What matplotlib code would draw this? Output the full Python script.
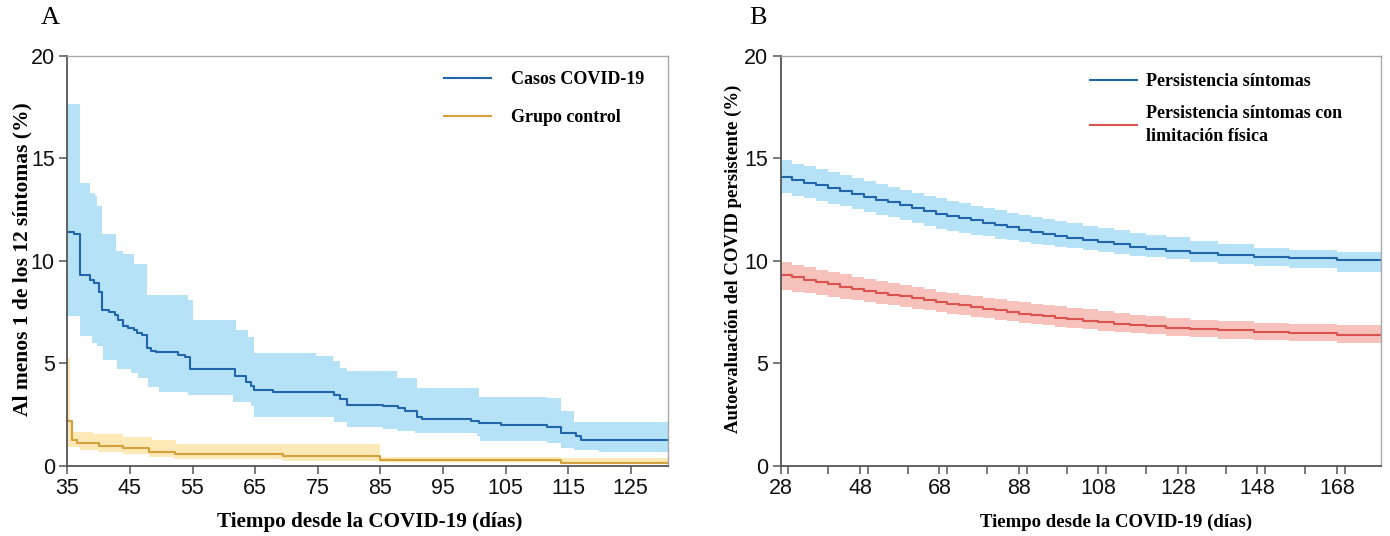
import matplotlib
matplotlib.use("Agg")
import matplotlib.pyplot as plt
from matplotlib.ticker import MultipleLocator

# ---------------- Panel A data (step functions, days / %) ----------------
case_days = [35, 36.0, 37.0, 38.6, 39.3, 40.1, 40.6, 41.7, 42.6, 43.1, 43.9, 44.7, 45.6,
             46.2, 47.0, 47.8, 48.3, 49.1, 52.7, 53.8, 54.6, 61.8, 63.6, 64.4, 64.9,
             67.9, 77.6, 78.6, 79.7, 85.5, 87.9, 89.0, 90.9, 91.7, 99.5, 100.7, 104.2,
             111.6, 113.9, 116.2, 117.0]
case_vals = [11.42, 11.32, 9.30, 9.06, 8.90, 8.46, 7.61, 7.50, 7.37, 7.09, 6.83, 6.72, 6.60,
             6.47, 6.39, 5.74, 5.62, 5.53, 5.41, 5.30, 4.71, 4.38, 4.11, 3.90, 3.70,
             3.60, 3.45, 3.25, 2.97, 2.89, 2.80, 2.69, 2.40, 2.28, 2.20, 2.10, 1.97,
             1.87, 1.58, 1.45, 1.27]

case_hi_days = [35, 37.0, 38.6, 39.5, 39.8, 40.6, 42.8, 43.9, 45.6, 47.8, 54.3, 55.1, 61.9,
                63.8, 64.9, 74.7, 77.4, 78.6, 79.7, 87.6, 90.9, 100.7, 111.6, 113.8, 116.0]
case_hi_vals = [17.66, 13.79, 13.31, 13.18, 12.69, 11.32, 10.48, 10.32, 9.84, 8.35, 8.10, 7.09, 6.60,
                6.30, 5.49, 5.36, 5.09, 4.76, 4.60, 4.27, 3.78, 3.37, 3.29, 2.67, 2.15]

case_lo_days = [35, 37.0, 38.9, 39.7, 40.7, 42.9, 45.2, 46.3, 47.9, 49.7, 54.3, 61.5, 64.4,
                64.9, 77.6, 79.7, 85.5, 87.6, 90.6, 100.5, 101.0, 111.6, 113.8, 116.0, 119.9]
case_lo_vals = [7.29, 6.31, 6.01, 5.82, 5.17, 4.71, 4.52, 4.27, 3.83, 3.62, 3.46, 3.13, 2.89,
                2.40, 2.15, 1.90, 1.79, 1.70, 1.58, 1.45, 1.21, 1.09, 0.85, 0.75, 0.68]

ctrl_days = [35, 35.7, 36.5, 40.0, 43.9, 48.1, 52.2, 69.4, 84.9, 113.8]
ctrl_vals = [2.20, 1.25, 1.09, 0.98, 0.88, 0.68, 0.57, 0.47, 0.28, 0.15]

ctrl_hi_days = [35, 35.4, 35.8, 39.1, 43.9, 48.5, 52.4, 84.9, 113.8]
ctrl_hi_vals = [5.25, 2.23, 1.66, 1.55, 1.42, 1.25, 1.06, 0.44, 0.36]

ctrl_lo_days = [35, 37.0, 39.9, 43.9, 48.1, 52.0, 69.4, 84.9, 113.8]
ctrl_lo_vals = [0.93, 0.77, 0.68, 0.57, 0.44, 0.33, 0.25, 0.20, 0.07]

# ---------------- Panel B data ----------------
b_days = [28, 31, 34, 37, 40, 43, 46, 49, 52, 55, 58, 61, 64, 67, 70, 73, 76, 79, 82, 85,
          88, 91, 94, 97, 100, 104, 108, 112, 116, 120, 125, 131, 138, 147, 156, 168]
b_blue = [14.10, 13.96, 13.82, 13.68, 13.55, 13.41, 13.27, 13.13, 12.99, 12.85, 12.72, 12.58,
          12.44, 12.31, 12.20, 12.09, 11.98, 11.86, 11.75, 11.64, 11.53, 11.43, 11.32, 11.21,
          11.10, 11.00, 10.90, 10.80, 10.70, 10.60, 10.50, 10.40, 10.30, 10.20, 10.12, 10.03]
b_blue_hi = [14.90, 14.75, 14.61, 14.46, 14.32, 14.17, 14.03, 13.89, 13.75, 13.61, 13.47, 13.33,
             13.19, 13.05, 12.93, 12.81, 12.69, 12.58, 12.46, 12.35, 12.23, 12.13, 12.04, 11.94,
             11.85, 11.72, 11.60, 11.49, 11.38, 11.27, 11.14, 10.98, 10.80, 10.62, 10.52, 10.44]
b_blue_lo = [13.30, 13.17, 13.05, 12.92, 12.79, 12.66, 12.53, 12.40, 12.26, 12.12, 11.99, 11.85,
             11.71, 11.57, 11.47, 11.38, 11.28, 11.19, 11.09, 11.00, 10.90, 10.83, 10.76, 10.69,
             10.62, 10.52, 10.43, 10.34, 10.26, 10.17, 10.07, 9.96, 9.85, 9.73, 9.65, 9.45]
b_red = [9.31, 9.20, 9.08, 8.97, 8.86, 8.74, 8.63, 8.52, 8.43, 8.35, 8.26, 8.17, 8.08, 8.00,
         7.91, 7.83, 7.75, 7.67, 7.58, 7.50, 7.42, 7.36, 7.29, 7.23, 7.16, 7.08, 7.00, 6.92,
         6.86, 6.80, 6.72, 6.66, 6.60, 6.55, 6.50, 6.40]
b_red_hi = [9.92, 9.80, 9.69, 9.57, 9.45, 9.34, 9.22, 9.11, 9.01, 8.91, 8.81, 8.71, 8.61, 8.50,
            8.42, 8.35, 8.27, 8.20, 8.12, 8.05, 7.97, 7.91, 7.85, 7.78, 7.72, 7.63, 7.55, 7.46,
            7.38, 7.30, 7.19, 7.10, 7.04, 6.98, 6.94, 6.88]
b_red_lo = [8.59, 8.50, 8.42, 8.33, 8.25, 8.16, 8.08, 7.99, 7.91, 7.83, 7.74, 7.66, 7.58, 7.50,
            7.42, 7.35, 7.27, 7.20, 7.12, 7.05, 6.97, 6.91, 6.85, 6.79, 6.73, 6.66, 6.58, 6.52,
            6.46, 6.41, 6.34, 6.27, 6.20, 6.14, 6.10, 6.00]

a_xticks = [35, 45, 55, 65, 75, 85, 95, 105, 115, 125]
b_xticks = [28, 48, 68, 88, 108, 128, 148, 168]
y_ticks = [0, 5, 10, 15, 20]

A_XMAX = 131.0
B_XMAX = 179.0

BLUE = "#2166a8"
BLUE_FILL = "#b6e2f8"
GOLD = "#d3a23c"
GOLD_FILL = "#fde9b5"
RED = "#d9534f"
RED_FILL = "#f7c1bc"

SERIF = ["Liberation Serif", "DejaVu Serif"]
TICKFONT = ["Liberation Sans Narrow", "Liberation Sans", "DejaVu Sans"]


def ext(days, vals, xmax):
    return list(days) + [xmax], list(vals) + [vals[-1]]


fig = plt.figure(figsize=(13.9, 5.36), dpi=100)
axA = fig.add_axes([67.3 / 1390, 1 - 465.7 / 536, 601 / 1390, 409.7 / 536])
axB = fig.add_axes([780.5 / 1390, 1 - 465.7 / 536, 600.2 / 1390, 409.7 / 536])


def band(ax, d, lo, hi, xmax, color):
    dx, lx = ext(d, lo, xmax)
    ax.fill_between(dx, lx, ext(d, hi, xmax)[1], step="post", color=color, lw=0)


def bandsep(ax, dlo, lo, dhi, hi, xmax, color):
    # combine two step series with different breakpoints
    grid = sorted(set(list(dlo) + list(dhi) + [xmax]))

    def val(days, vals, x):
        v = vals[0]
        for t, y in zip(days, vals):
            if t <= x:
                v = y
        return v
    l = [val(dlo, lo, g) for g in grid]
    h = [val(dhi, hi, g) for g in grid]
    ax.fill_between(grid, l, h, step="post", color=color, lw=0)


# Panel A
bandsep(axA, case_lo_days, case_lo_vals, case_hi_days, case_hi_vals, A_XMAX, BLUE_FILL)
bandsep(axA, ctrl_lo_days, ctrl_lo_vals, ctrl_hi_days, ctrl_hi_vals, A_XMAX, GOLD_FILL)
x, y = ext(case_days, case_vals, A_XMAX)
axA.step(x, y, where="post", color=BLUE, lw=1.5, label="Casos COVID-19")
x, y = ext(ctrl_days, ctrl_vals, A_XMAX)
axA.step(x, y, where="post", color=GOLD, lw=1.5, label="Grupo control")
axA.set_xlim(35, A_XMAX)
axA.set_xticks(a_xticks)

# Panel B
band(axB, b_days, b_blue_lo, b_blue_hi, B_XMAX, BLUE_FILL)
band(axB, b_days, b_red_lo, b_red_hi, B_XMAX, RED_FILL)
x, y = ext(b_days, b_blue, B_XMAX)
axB.step(x, y, where="post", color=BLUE, lw=1.5, label="Persistencia síntomas")
x, y = ext(b_days, b_red, B_XMAX)
axB.step(x, y, where="post", color=RED, lw=1.5,
         label="Persistencia síntomas con\nlimitación física")
axB.set_xlim(28, B_XMAX)
axB.set_xticks(b_xticks)
axB.xaxis.set_minor_locator(MultipleLocator(10))

for ax in (axA, axB):
    ax.set_ylim(0, 20)
    ax.set_yticks(y_ticks)
    for s in ("left", "bottom"):
        ax.spines[s].set_color("#555555")
        ax.spines[s].set_linewidth(1.3)
    for s in ("top", "right"):
        ax.spines[s].set_color("#a8a8a8")
        ax.spines[s].set_linewidth(1.0)
    ax.tick_params(which="both", direction="out", length=6, width=1.1, color="#555555",
                   labelsize=15.5, labelcolor="#111111", pad=3)
    for lab in ax.get_xticklabels() + ax.get_yticklabels():
        lab.set_family(TICKFONT)

axA.set_xlabel("Tiempo desde la COVID-19 (días)", family=SERIF, fontweight="bold",
               fontsize=15.2)
axA.xaxis.set_label_coords((370 - 67.3) / 601, (465.7 - 522) / 409.7)
axB.set_xlabel("Tiempo desde la COVID-19 (días)", family=SERIF, fontweight="bold",
               fontsize=13.5)
axB.xaxis.set_label_coords((1116 - 780.5) / 600.2, (465.7 - 522) / 409.7)

axA.set_ylabel("Al menos 1 de los 12 síntomas (%)", family=SERIF, fontweight="bold",
               fontsize=15.5)
axA.yaxis.set_label_coords((22 - 67.3) / 601, (465.7 - 259) / 409.7)
axB.set_ylabel("Autoevaluación del COVID persistente (%)", family=SERIF, fontweight="bold",
               fontsize=13.5)
axB.yaxis.set_label_coords((733 - 780.5) / 600.2, (465.7 - 259) / 409.7)
axA.yaxis.label.set_va("center")
axB.yaxis.label.set_va("center")
axA.xaxis.label.set_va("center")
axB.xaxis.label.set_va("center")

legA = axA.legend(loc="upper left", bbox_to_anchor=(0.627, 0.963), frameon=False,
                  prop={"family": SERIF, "weight": "bold", "size": 13},
                  handlelength=2.6, handletextpad=1.1, labelspacing=1.15,
                  borderpad=0, borderaxespad=0)
legB = axB.legend(loc="upper left", bbox_to_anchor=(0.516, 0.958), frameon=False,
                  prop={"family": SERIF, "weight": "bold", "size": 13},
                  handlelength=2.6, handletextpad=0.5, labelspacing=0.8,
                  borderpad=0, borderaxespad=0)
for t in legB.get_texts():
    t.set_linespacing(1.45)

fig.text(50 / 1390, 1 - 18 / 536, "A", family=SERIF, fontsize=19, va="center", ha="center")
fig.text(758 / 1390, 1 - 18 / 536, "B", family=SERIF, fontsize=19, va="center", ha="center")

fig.savefig("out.png", dpi=100)
